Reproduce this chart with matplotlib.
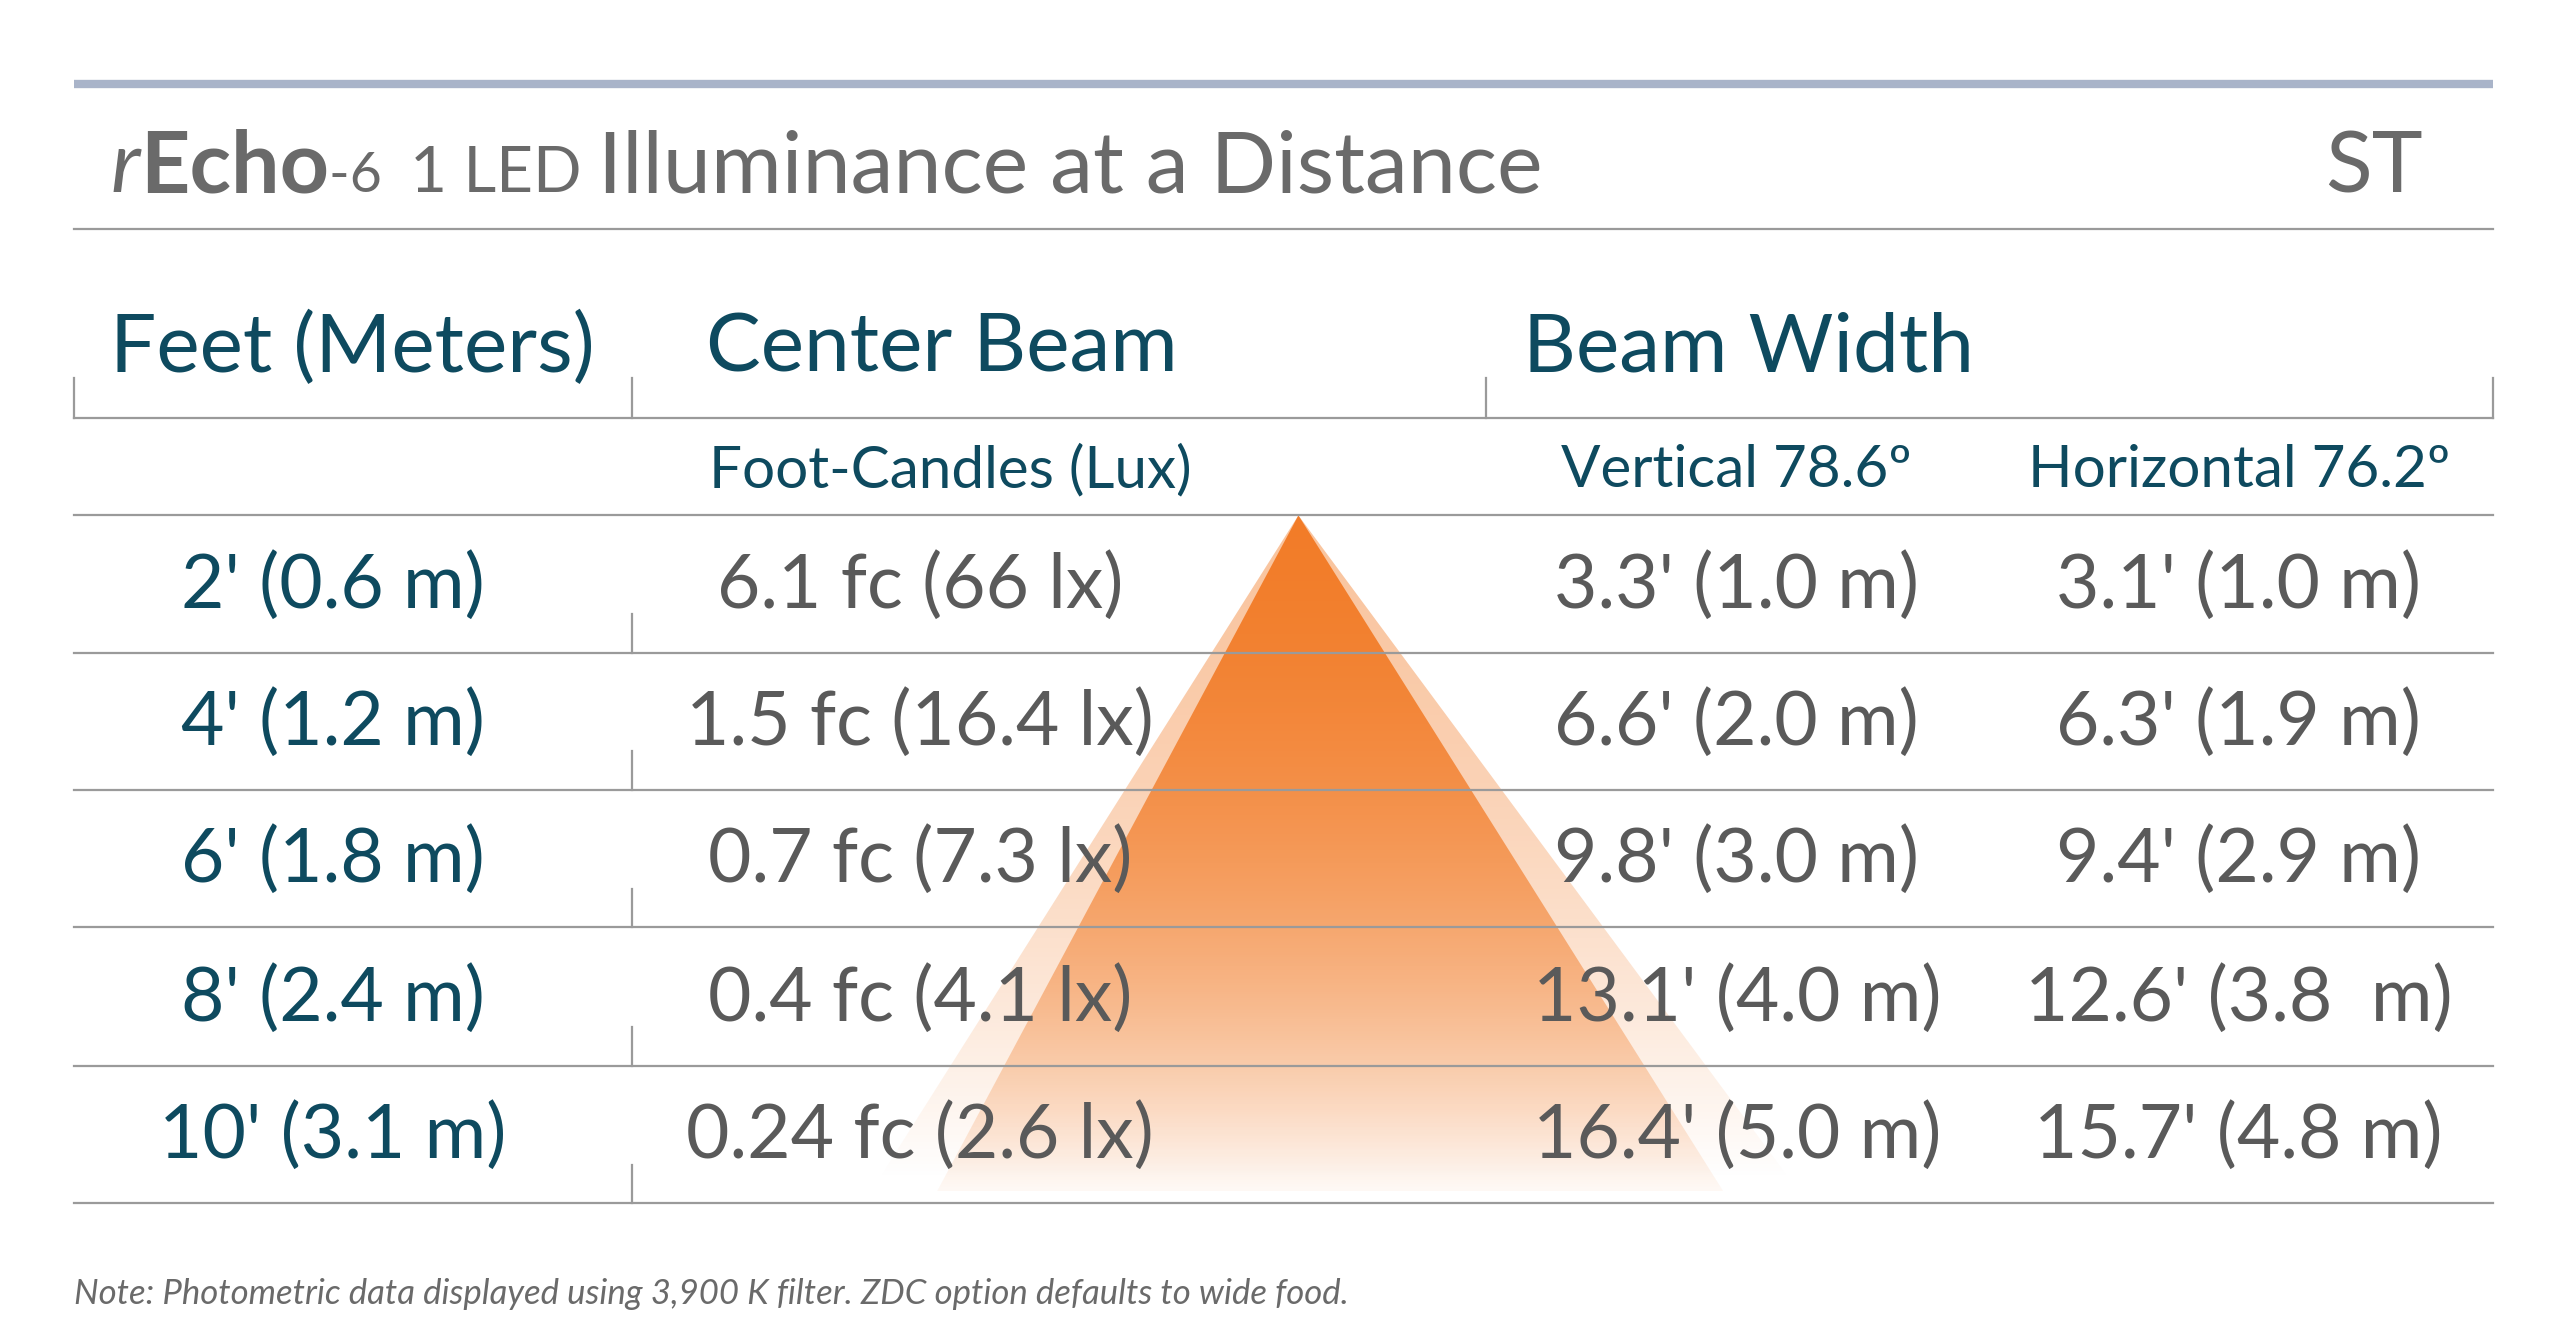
import matplotlib
matplotlib.use("Agg")
import matplotlib.pyplot as plt
import numpy as np
from matplotlib.patches import Polygon

plt.rcParams['font.family'] = ['Lato', 'DejaVu Sans']

distances = ["2' (0.6 m)", "4' (1.2 m)", "6' (1.8 m)", "8' (2.4 m)", "10' (3.1 m)"]
center_beam = ["6.1 fc (66 lx)", "1.5 fc (16.4 lx)", "0.7 fc (7.3 lx)", "0.4 fc (4.1 lx)", "0.24 fc (2.6 lx)"]
vertical = ["3.3' (1.0 m)", "6.6' (2.0 m)", "9.8' (3.0 m)", "13.1' (4.0 m)", "16.4' (5.0 m)"]
horizontal = ["3.1' (1.0 m)", "6.3' (1.9 m)", "9.4' (2.9 m)", "12.6' (3.8  m)", "15.7' (4.8 m)"]
headers = ["Feet (Meters)", "Center Beam", "Beam Width"]
subheaders = ["Foot-Candles (Lux)", "Vertical 78.6º", "Horizontal 76.2º"]
note = "Note: Photometric data displayed using 3,900 K filter. ZDC option defaults to wide food."

W, H = 1530, 793
fig = plt.figure(figsize=(25.6, 13.27), dpi=100)
ax = fig.add_axes([0, 0, 1, 1])
ax.set_xlim(0, W); ax.set_ylim(H, 0); ax.axis('off')

TEAL = '#0e4a5f'; GRAY = '#5a5a5a'; LINE = '#9a9a9a'
L, R = 44, 1490

def grad_tri(pts, alpha_top, alpha_bot, zo):
    ys = np.linspace(0, 1, 256)[:, None]
    img = np.zeros((256, 2, 4))
    img[..., 0] = 0.95; img[..., 1] = 0.49; img[..., 2] = 0.16
    img[..., 3] = alpha_top + (alpha_bot - alpha_top) * ys ** 1.6
    poly = Polygon(pts, closed=True, facecolor='none', edgecolor='none')
    ax.add_patch(poly)
    ymin = min(p[1] for p in pts); ymax = max(p[1] for p in pts)
    xmin = min(p[0] for p in pts); xmax = max(p[0] for p in pts)
    im = ax.imshow(img, extent=(xmin, xmax, ymax, ymin), aspect='auto', zorder=zo, interpolation='bilinear')
    im.set_clip_path(poly)

grad_tri([(776, 308), (525, 705), (1070, 705)], 0.45, 0.0, 0.5)
grad_tri([(776, 308), (560, 712), (1030, 712)], 1.0, 0.05, 0.6)

ax.plot([L, R], [50, 50], color='#a9b4c9', lw=6, solid_capstyle='butt', zorder=2)
ax.plot([L, R], [137, 137], color=LINE, lw=1.6, zorder=2)
ax.plot([L, R], [250, 250], color=LINE, lw=1.6, zorder=2)
for x in [L, 378, 888, R]:
    ax.plot([x, x], [226, 250], color=LINE, lw=1.6, zorder=2)
ax.plot([L, R], [308, 308], color=LINE, lw=1.6, zorder=2)
row_y = [350, 432, 514, 597, 679]
for y in row_y:
    ax.plot([L, R], [y + 40, y + 40], color=LINE, lw=1.6, zorder=2)
    ax.plot([378, 378], [y + 17, y + 40], color=LINE, lw=1.6, zorder=2)

fig.canvas.draw()
r = fig.canvas.get_renderer()
x = 66
pieces = [("r", dict(fontsize=62, style='italic')),
          ("Echo", dict(fontsize=62, fontweight='bold')),
          ("-6  ", dict(fontsize=40)),
          ("1 LED ", dict(fontsize=46)),
          ("Illuminance at a Distance", dict(fontsize=62))]
for s, kw in pieces:
    t = ax.text(x, 115, s, color='#6a6a6a', va='baseline', ha='left', **kw)
    bb = t.get_window_extent(r).transformed(ax.transData.inverted())
    x = bb.x1
ax.text(1448, 115, "ST", color='#6a6a6a', fontsize=62, ha='right', va='baseline')

ax.text(66, 208, headers[0], color=TEAL, fontsize=59, ha='left', va='center')
ax.text(422, 208, headers[1], color=TEAL, fontsize=59, ha='left', va='center')
ax.text(910, 208, headers[2], color=TEAL, fontsize=59, ha='left', va='center')
col_x = [199, 550, 1038, 1338]
ax.text(568, 281, subheaders[0], color=TEAL, fontsize=42, ha='center', va='center')
ax.text(col_x[2], 281, subheaders[1], color=TEAL, fontsize=42, ha='center', va='center')
ax.text(col_x[3], 281, subheaders[2], color=TEAL, fontsize=42, ha='center', va='center')

for i, y in enumerate(row_y):
    ax.text(col_x[0], y, distances[i], color=TEAL, fontsize=54, ha='center', va='center', zorder=3)
    ax.text(col_x[1], y, center_beam[i], color=GRAY, fontsize=54, ha='center', va='center', zorder=3)
    ax.text(col_x[2], y, vertical[i], color=GRAY, fontsize=54, ha='center', va='center', zorder=3)
    ax.text(col_x[3], y, horizontal[i], color=GRAY, fontsize=54, ha='center', va='center', zorder=3)

ax.text(L, 773, note, color='#6a6a6a', fontsize=25, style='italic', ha='left', va='center')

fig.savefig('out.png', dpi=100, facecolor='white')
